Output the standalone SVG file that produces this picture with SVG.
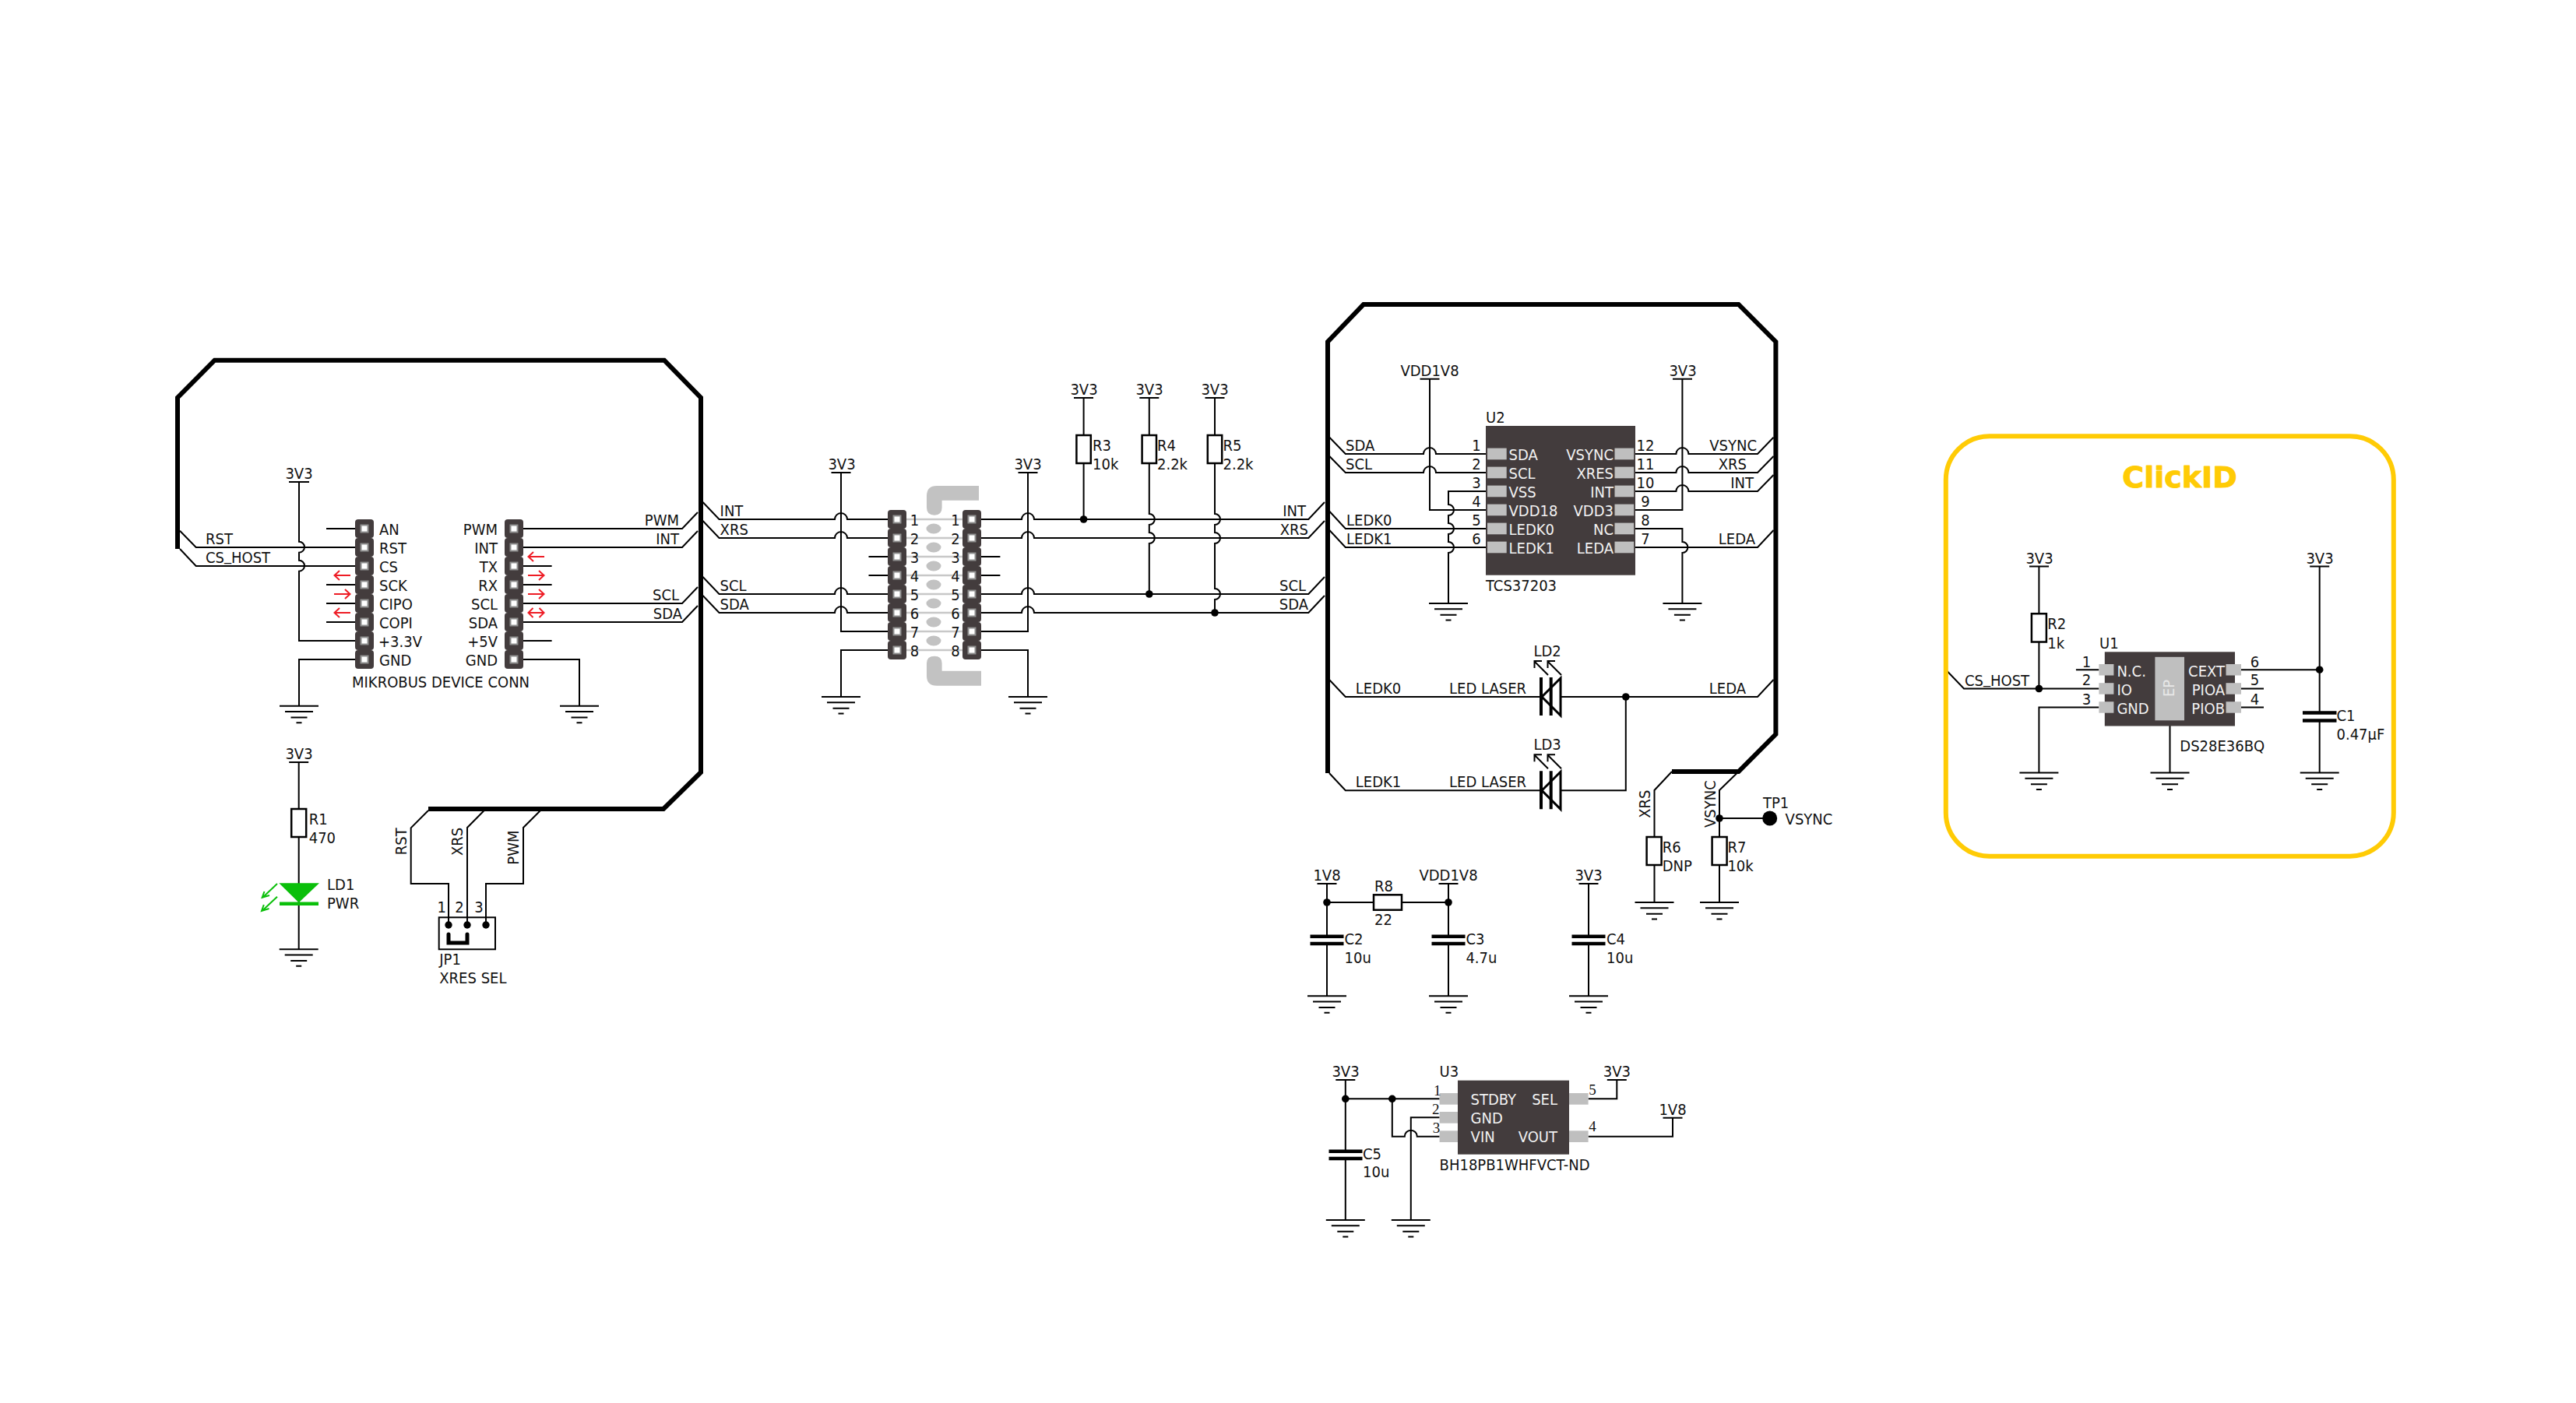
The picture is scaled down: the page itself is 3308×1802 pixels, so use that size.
<svg xmlns="http://www.w3.org/2000/svg" xmlns:xlink="http://www.w3.org/1999/xlink" width="3308" height="1802" viewBox="0 0 3308 1802">
<style>
text{font-family:"DejaVu Sans Condensed","DejaVu Sans","Liberation Sans",sans-serif;font-stretch:condensed;font-size:20px;fill:#111}
.w{fill:#f2f2f2}
.e{text-anchor:end}
.m{text-anchor:middle}
.s{font-family:"Liberation Serif",serif;font-stretch:normal;font-size:19px}
.l{fill:none;stroke:#000;stroke-width:2}
.fr{fill:none;stroke:#000;stroke-width:6;stroke-linejoin:miter}
.chip{fill:#433c3d}
.pad{fill:#bfbfbf}
.body{fill:#fff;stroke:#000;stroke-width:2.5}
.plate{fill:none;stroke:#000;stroke-width:4.5}
.red{fill:none;stroke:#ee1c25;stroke-width:2}
.grn{fill:none;stroke:#0abf0a;stroke-width:2}
.lite{fill:#c2c2c2}
.bar{stroke:#c8c8c8;stroke-width:2.5;fill:none}
</style>
<defs>
<g id="gnd" fill="none" stroke="#000" stroke-width="2"><path d="M-25,0H25M-18,7.3H18M-10.5,14.7H10.5M-3.5,21.5H3.5"/></g>
<g id="pin"><rect x="-12" y="-12" width="24" height="24" rx="4" fill="#433c3d"/><rect x="-5.5" y="-5.5" width="11" height="11" fill="#8f8f8f"/><rect x="-3.5" y="-3.5" width="7" height="7" fill="#fff"/></g>
<g id="laser"><path d="M0,-25V24M12.7,-25V24" fill="none" stroke="#000" stroke-width="4"/><path d="M1,0L25,-24V24Z" fill="none" stroke="#000" stroke-width="3"/><path d="M9,-28L-9,-46M-8.5,-37V-46H1M26,-28L8,-46M8.5,-37V-46H18" fill="none" stroke="#000" stroke-width="2"/></g>
</defs>
<g id="frames">
<path id="frame-mikrobus" class="fr" d="M228,705V510.7L275.6,462.7H853L900,510.7V992L852,1039H550"/>
<path id="frame-sensor" class="fr" d="M1705,993V439L1751,391H2232.6L2280.4,439V943L2232.6,991H2147"/>
</g>
<g id="connectors">
<path class="l" d="M231,681.7L251.7,703H456M231,705L251.7,727H456M384,619V695.7A7,7 0 0 1 384,709.7V719.7A7,7 0 0 1 384,733.7V823H456M419,679H456M419,751H456M419,775H456M419,799H456M456,847H384V906.7"/>
<path class="l" d="M672,679H876L896,658M672,703H876L896,682M672,775H876L896,754M672,799H876L896,778M672,727H708.6M672,751H708.6M672,823H708.6M672,847H744V906.7"/>
<path class="l" d="M902.6,645L923.5,667H1072A8,8 0 0 1 1088,667H1140M902.6,669L923.5,691H1072A8,8 0 0 1 1088,691H1140M902.6,741L923.5,763H1072A8,8 0 0 1 1088,763H1140M902.6,765L923.5,787H1072A8,8 0 0 1 1088,787H1140M1080,607V811H1140M1115.5,715H1140M1115.5,739H1140M1140,835H1080V895"/>
<path class="l" d="M1260,667H1312A8,8 0 0 1 1328,667H1680.3L1701,645M1260,691H1312A8,8 0 0 1 1328,691H1680.3L1701,669M1260,763H1312A8,8 0 0 1 1328,763H1680.3L1701,741M1260,787H1312A8,8 0 0 1 1328,787H1680.3L1701,765M1320,607V811H1260M1260,715H1284.4M1260,739H1284.4M1260,835H1320V895"/>
<path class="l" d="M1391.6,511V559M1391.6,595V667M1475.8,511V559M1475.8,595V660A7,7 0 0 1 1475.8,674V684A7,7 0 0 1 1475.8,698V763M1560,511V559M1560,595V660A7,7 0 0 1 1560,674V684A7,7 0 0 1 1560,698V756A7,7 0 0 1 1560,770V787"/>
<path class="l" d="M1707.3,561.7L1727.8,583H1828A8,8 0 0 1 1844,583H1910M1707.3,586L1727.8,607H1828A8,8 0 0 1 1844,607H1910M1707.3,656.7L1727.8,679H1910M1707.3,681L1727.8,703H1910M1836,487V655H1910M1910,631H1860V648A7,7 0 0 1 1860,662V672A7,7 0 0 1 1860,686V696A7,7 0 0 1 1860,710V775"/>
<path class="l" d="M2098,583H2152.4A8,8 0 0 1 2168.4,583H2257L2277.5,561.7M2098,607H2152.4A8,8 0 0 1 2168.4,607H2257L2277.5,586M2098,631H2152.4A8,8 0 0 1 2168.4,631H2257L2277.5,610M2098,703H2257L2277.5,681M2160.4,487V655H2098M2098,679H2160.4V696A7,7 0 0 1 2160.4,710V775"/>
<path class="l" d="M1707,873L1727.8,895H1979M2004,895H2257L2277.5,873M1707,993L1727.8,1015.3H1979M2004,1015.3H2087.8V895"/>
<path class="l" d="M2147,991L2124.5,1015V1075M2124.5,1111V1159M2232.6,991L2208,1015V1075M2208,1111V1159M2208,1051H2272"/>
<path class="l" d="M1704,1135V1202M1704,1212V1279M1704,1159H1764M1800,1159H1860M1860,1135V1202M1860,1212V1279M2040,1135V1202M2040,1212V1279"/>
<path class="l" d="M1727.8,1387V1478M1727.8,1488V1567M1727.8,1411.3H1848.6M1787.8,1411.3V1459.7H1803.8A8,8 0 0 1 1819.8,1459.7H1848.6M1848.6,1435.3H1811.8V1567M2039.6,1411.3H2076.3V1387M2039.6,1459.7H2148V1435.7"/>
<path class="l" d="M2498.6,860L2522,884.5H2695.4M2618.4,727.5V788M2618.4,824.5V884.5M2665.9,860.2H2695.4M2695.4,908.5H2618.4V992.5M2786.5,932V992.5M2878,860.2H2978.7M2878,884.5H2907M2878,908.5H2907M2978.7,727.5V915M2978.7,925V992.5"/>
<path class="l" d="M383.7,979V1039M383.7,1075V1219.3"/>
<path class="l" d="M550,1041L527.7,1063.3V1135H576V1188M621.7,1041L600,1063V1188M694,1041L672,1063V1135H624V1188"/>
</g>
<g id="mikrobus-conn">
<use xlink:href="#pin" x="468" y="679"/><use xlink:href="#pin" x="468" y="703"/><use xlink:href="#pin" x="468" y="727"/><use xlink:href="#pin" x="468" y="751"/><use xlink:href="#pin" x="468" y="775"/><use xlink:href="#pin" x="468" y="799"/><use xlink:href="#pin" x="468" y="823"/><use xlink:href="#pin" x="468" y="847"/>
<use xlink:href="#pin" x="660" y="679"/><use xlink:href="#pin" x="660" y="703"/><use xlink:href="#pin" x="660" y="727"/><use xlink:href="#pin" x="660" y="751"/><use xlink:href="#pin" x="660" y="775"/><use xlink:href="#pin" x="660" y="799"/><use xlink:href="#pin" x="660" y="823"/><use xlink:href="#pin" x="660" y="847"/>
<text x="487" y="686.5">AN</text><text x="487" y="710.5">RST</text><text x="487" y="734.5">CS</text><text x="487" y="758.5">SCK</text><text x="487" y="782.5">CIPO</text><text x="487" y="806.5">COPI</text><text x="486" y="830.5">+3.3V</text><text x="487" y="854.5">GND</text>
<text class="e" x="639" y="686.5">PWM</text><text class="e" x="639" y="710.5">INT</text><text class="e" x="639" y="734.5">TX</text><text class="e" x="639" y="758.5">RX</text><text class="e" x="639" y="782.5">SCL</text><text class="e" x="639" y="806.5">SDA</text><text class="e" x="639" y="830.5">+5V</text><text class="e" x="639" y="854.5">GND</text>
<text x="452" y="883">MIKROBUS DEVICE CONN</text>
<path class="red" d="M450,739H430M436,733L429.5,739L436,745M429,763H449M443,757L449.5,763L443,769M450,787H430M436,781L429.5,787L436,793"/>
<path class="red" d="M699,715H679M685,709L678.5,715L685,721M678,739H698M692,733L698.5,739L692,745M678,763H698M692,757L698.5,763L692,769M679,787H698M684.5,781L678.5,787L684.5,793M692.5,781L698.5,787L692.5,793"/>
<path class="l" d="M371,619H397"/><text class="m" x="384" y="615">3V3</text>
<use xlink:href="#gnd" x="384" y="906.7"/><use xlink:href="#gnd" x="744" y="906.7"/>
<text x="264" y="699">RST</text><text x="264" y="723">CS<tspan dy="-3">_</tspan><tspan dy="3">HOST</tspan></text>
<text class="e" x="872" y="675">PWM</text><text class="e" x="872" y="699">INT</text><text class="e" x="872" y="771">SCL</text><text class="e" x="876" y="795">SDA</text>
</g>
<g id="adapter-conn">
<path class="lite" d="M1190,637Q1190,624 1203,624H1257V642.7H1209.6V652Q1209.6,661.7 1200,661.7Q1190,661.7 1190,652Z"/>
<path class="lite" d="M1190,852Q1190,842.7 1200,842.7Q1209.6,842.7 1209.6,852V861.7H1260V880.7H1203Q1190,880.7 1190,868Z"/>
<path class="bar" d="M1164,667H1236M1164,691H1236M1164,715H1236M1164,739H1236M1164,763H1236M1164,787H1236M1164,811H1236M1164,835H1236"/>
<ellipse class="lite" cx="1199" cy="679" rx="9.5" ry="6.5"/><ellipse class="lite" cx="1199" cy="703" rx="9.5" ry="6.5"/><ellipse class="lite" cx="1199" cy="727" rx="9.5" ry="6.5"/><ellipse class="lite" cx="1199" cy="751" rx="9.5" ry="6.5"/><ellipse class="lite" cx="1199" cy="775" rx="9.5" ry="6.5"/><ellipse class="lite" cx="1199" cy="799" rx="9.5" ry="6.5"/><ellipse class="lite" cx="1199" cy="823" rx="9.5" ry="6.5"/>
<use xlink:href="#pin" x="1152" y="667"/><use xlink:href="#pin" x="1152" y="691"/><use xlink:href="#pin" x="1152" y="715"/><use xlink:href="#pin" x="1152" y="739"/><use xlink:href="#pin" x="1152" y="763"/><use xlink:href="#pin" x="1152" y="787"/><use xlink:href="#pin" x="1152" y="811"/><use xlink:href="#pin" x="1152" y="835"/>
<use xlink:href="#pin" x="1248" y="667"/><use xlink:href="#pin" x="1248" y="691"/><use xlink:href="#pin" x="1248" y="715"/><use xlink:href="#pin" x="1248" y="739"/><use xlink:href="#pin" x="1248" y="763"/><use xlink:href="#pin" x="1248" y="787"/><use xlink:href="#pin" x="1248" y="811"/><use xlink:href="#pin" x="1248" y="835"/>
<text class="m" x="1174.6" y="675">1</text><text class="m" x="1174.6" y="699">2</text><text class="m" x="1174.6" y="723">3</text><text class="m" x="1174.6" y="747">4</text><text class="m" x="1174.6" y="771">5</text><text class="m" x="1174.6" y="795">6</text><text class="m" x="1174.6" y="819">7</text><text class="m" x="1174.6" y="843">8</text>
<text class="m" x="1227" y="675">1</text><text class="m" x="1227" y="699">2</text><text class="m" x="1227" y="723">3</text><text class="m" x="1227" y="747">4</text><text class="m" x="1227" y="771">5</text><text class="m" x="1227" y="795">6</text><text class="m" x="1227" y="819">7</text><text class="m" x="1227" y="843">8</text>
<path class="l" d="M1067.5,607H1092.5M1307.5,607H1332.5"/><text class="m" x="1081" y="603">3V3</text><text class="m" x="1320" y="603">3V3</text>
<use xlink:href="#gnd" x="1080" y="895"/><use xlink:href="#gnd" x="1320" y="895"/>
<text x="924.6" y="663">INT</text><text x="924.6" y="687">XRS</text><text x="924.6" y="759">SCL</text><text x="924.6" y="783">SDA</text>
<text class="e" x="1677" y="663">INT</text><text class="e" x="1680" y="687">XRS</text><text class="e" x="1677" y="759">SCL</text><text class="e" x="1680" y="783">SDA</text>
</g>
<g id="R3"><path class="l" d="M1379,511H1404"/><text class="m" x="1392" y="507">3V3</text><rect class="body" x="1382.4" y="559" width="18.4" height="36"/><text x="1403" y="578.7">R3</text><text x="1403" y="602.7">10k</text><circle cx="1391.6" cy="667" r="4.8"/></g>
<g id="R4"><path class="l" d="M1463.3,511H1488.3"/><text class="m" x="1476" y="507">3V3</text><rect class="body" x="1466.6" y="559" width="18.4" height="36"/><text x="1486" y="578.7">R4</text><text x="1486" y="602.7">2.2k</text><circle cx="1475.8" cy="763" r="4.8"/></g>
<g id="R5"><path class="l" d="M1547.5,511H1572.5"/><text class="m" x="1560" y="507">3V3</text><rect class="body" x="1550.8" y="559" width="18.4" height="36"/><text x="1570.5" y="578.7">R5</text><text x="1570.5" y="602.7">2.2k</text><circle cx="1560" cy="787" r="4.8"/></g>
<g id="U2">
<rect class="chip" x="1908" y="547" width="192" height="191.7"/>
<rect class="pad" x="1910" y="575.6" width="24.7" height="14.7"/><rect class="pad" x="1910" y="599.6" width="24.7" height="14.7"/><rect class="pad" x="1910" y="623.6" width="24.7" height="14.7"/><rect class="pad" x="1910" y="647.6" width="24.7" height="14.7"/><rect class="pad" x="1910" y="671.6" width="24.7" height="14.7"/><rect class="pad" x="1910" y="695.6" width="24.7" height="14.7"/>
<rect class="pad" x="2073.5" y="575.6" width="24.7" height="14.7"/><rect class="pad" x="2073.5" y="599.6" width="24.7" height="14.7"/><rect class="pad" x="2073.5" y="623.6" width="24.7" height="14.7"/><rect class="pad" x="2073.5" y="647.6" width="24.7" height="14.7"/><rect class="pad" x="2073.5" y="671.6" width="24.7" height="14.7"/><rect class="pad" x="2073.5" y="695.6" width="24.7" height="14.7"/>
<text class="w" x="1937.5" y="591">SDA</text><text class="w" x="1937.5" y="615">SCL</text><text class="w" x="1937.5" y="639">VSS</text><text class="w" x="1937.5" y="663">VDD18</text><text class="w" x="1937.5" y="687">LEDK0</text><text class="w" x="1937.5" y="711">LEDK1</text>
<text class="w e" x="2072" y="591">VSYNC</text><text class="w e" x="2072" y="615">XRES</text><text class="w e" x="2072" y="639">INT</text><text class="w e" x="2072" y="663">VDD3</text><text class="w e" x="2072" y="687">NC</text><text class="w e" x="2072" y="711">LEDA</text>
<text class="m" x="1896" y="579">1</text><text class="m" x="1896" y="603">2</text><text class="m" x="1896" y="627">3</text><text class="m" x="1896" y="651">4</text><text class="m" x="1896" y="675">5</text><text class="m" x="1896" y="699">6</text>
<text class="m" x="2113" y="579">12</text><text class="m" x="2113" y="603">11</text><text class="m" x="2113" y="627">10</text><text class="m" x="2113" y="651">9</text><text class="m" x="2113" y="675">8</text><text class="m" x="2113" y="699">7</text>
<text x="1908" y="543">U2</text><text x="1908" y="759">TCS37203</text>
<path class="l" d="M1823.5,486.7H1848.5M2148,486.7H2173"/><text class="m" x="1836" y="482.7">VDD1V8</text><text class="m" x="2161" y="482.7">3V3</text>
<use xlink:href="#gnd" x="1860" y="775"/><use xlink:href="#gnd" x="2160.4" y="775"/>
<text x="1728" y="579">SDA</text><text x="1728" y="603">SCL</text><text x="1729" y="675">LEDK0</text><text x="1729" y="699">LEDK1</text>
<text class="e" x="2256" y="579">VSYNC</text><text class="e" x="2243" y="603">XRS</text><text class="e" x="2252" y="627">INT</text><text class="e" x="2254" y="699">LEDA</text>
</g>
<g id="LD2"><use xlink:href="#laser" x="1979" y="895"/><text x="1969.4" y="843">LD2</text><text x="1861" y="891">LED LASER</text><text x="1740.8" y="891">LEDK0</text><text class="e" x="2242" y="891">LEDA</text><circle cx="2087.8" cy="895" r="4.8"/></g>
<g id="LD3"><use xlink:href="#laser" x="1979" y="1015.3"/><text x="1969.4" y="962.7">LD3</text><text x="1861" y="1011">LED LASER</text><text x="1740.8" y="1011">LEDK1</text></g>
<g id="R6"><rect class="body" x="2114.6" y="1075" width="19" height="36"/><text x="2134.7" y="1095">R6</text><text x="2134.7" y="1119">DNP</text><use xlink:href="#gnd" x="2124.5" y="1159"/><text transform="translate(2118.8,1050.7) rotate(-90)">XRS</text></g>
<g id="R7"><rect class="body" x="2198.6" y="1075" width="19" height="36"/><text x="2218.4" y="1095">R7</text><text x="2218.4" y="1119">10k</text><use xlink:href="#gnd" x="2208" y="1159"/><text transform="translate(2203,1063) rotate(-90)">VSYNC</text><circle cx="2208" cy="1051" r="4.8"/></g>
<g id="TP1"><circle cx="2272.7" cy="1051" r="9.5"/><text x="2264" y="1037.7">TP1</text><text x="2292.6" y="1059">VSYNC</text></g>
<g id="R8"><rect class="body" x="1764" y="1149.3" width="36" height="19.4"/><text x="1765" y="1145">R8</text><text x="1765" y="1188">22</text><circle cx="1704" cy="1159" r="4.8"/><circle cx="1860" cy="1159" r="4.8"/></g>
<g id="C2"><path class="l" d="M1691.5,1135H1716.5"/><text class="m" x="1704" y="1130.7">1V8</text><path class="plate" d="M1682.5,1202.7H1725.5M1682.5,1212H1725.5"/><text x="1726.5" y="1212.7">C2</text><text x="1726.5" y="1236.7">10u</text><use xlink:href="#gnd" x="1704" y="1279.3"/></g>
<g id="C3"><path class="l" d="M1847.5,1135H1872.5"/><text class="m" x="1860" y="1130.7">VDD1V8</text><path class="plate" d="M1838.5,1202.7H1881.5M1838.5,1212H1881.5"/><text x="1882.4" y="1212.7">C3</text><text x="1882.4" y="1236.7">4.7u</text><use xlink:href="#gnd" x="1860" y="1279.3"/></g>
<g id="C4"><path class="l" d="M2027.5,1135H2052.5"/><text class="m" x="2040" y="1130.7">3V3</text><path class="plate" d="M2018.5,1202.7H2061.5M2018.5,1212H2061.5"/><text x="2063" y="1212.7">C4</text><text x="2063" y="1236.7">10u</text><use xlink:href="#gnd" x="2040" y="1279.3"/></g>
<g id="U3">
<rect class="chip" x="1872" y="1387.7" width="143" height="95"/>
<rect class="pad" x="1848.6" y="1404" width="23.4" height="14.7"/><rect class="pad" x="1848.6" y="1428" width="23.4" height="14.7"/><rect class="pad" x="1848.6" y="1452.3" width="23.4" height="14.7"/><rect class="pad" x="2015" y="1404" width="24.6" height="14.7"/><rect class="pad" x="2015" y="1452.3" width="24.6" height="14.7"/>
<text class="w" x="1888.6" y="1419">STDBY</text><text class="w" x="1888.6" y="1443">GND</text><text class="w" x="1888.6" y="1467">VIN</text><text class="w e" x="2000" y="1419">SEL</text><text class="w e" x="2000" y="1467">VOUT</text>
<text class="m s" x="1845.7" y="1406.7">1</text><text class="m s" x="1843.7" y="1430.7">2</text><text class="m s" x="1844.5" y="1455">3</text><text class="m s" x="2045" y="1406">5</text><text class="m s" x="2045" y="1453">4</text>
<text x="1848.6" y="1383">U3</text><text x="1848.6" y="1503">BH18PB1WHFVCT-ND</text>
<path class="l" d="M1715.3,1387H1740.3M2063.8,1387H2088.8M2135.5,1435.7H2160.5"/><text class="m" x="1728" y="1383">3V3</text><text class="m" x="2076.3" y="1383">3V3</text><text class="m" x="2148" y="1431.7">1V8</text>
<circle cx="1727.8" cy="1411.3" r="4.8"/><circle cx="1787.8" cy="1411.3" r="4.8"/>
<use xlink:href="#gnd" x="1727.8" y="1567"/><use xlink:href="#gnd" x="1811.8" y="1567"/>
</g>
<g id="C5"><path class="plate" d="M1706.5,1478.7H1749.5M1706.5,1488H1749.5"/><text x="1750" y="1489">C5</text><text x="1750" y="1512">10u</text></g>
<g id="R1-LD1"><path class="l" d="M371.2,979H396.2"/><text class="m" x="384" y="975">3V3</text><rect class="body" x="374.2" y="1039" width="19" height="36"/><text x="396.7" y="1059">R1</text><text x="396.7" y="1083">470</text>
<path d="M358.3,1134.3H410L383.7,1159.3Z" fill="#0abf0a"/><path d="M359,1160.7H409" stroke="#0abf0a" stroke-width="4.5" fill="none"/>
<path class="grn" d="M356,1135L337,1153M339.5,1145L336.7,1152.7L346,1150M356,1151.7L337,1169.5M338.8,1162L336,1170L345.5,1167"/>
<text x="420" y="1143.3">LD1</text><text x="420" y="1167.3">PWR</text><use xlink:href="#gnd" x="383.7" y="1219.3"/></g>
<g id="JP1"><rect x="563.7" y="1178.3" width="72.3" height="41" fill="none" stroke="#000" stroke-width="2"/><circle cx="576" cy="1188" r="4.7"/><circle cx="600" cy="1188" r="4.7"/><circle cx="624" cy="1188" r="4.7"/><path d="M576,1200V1211H600V1200" fill="none" stroke="#000" stroke-width="5" stroke-linecap="round"/>
<text class="m" x="567.3" y="1172.3">1</text><text class="m" x="590" y="1172.3">2</text><text class="m" x="615" y="1172.3">3</text><text x="564.3" y="1239.3">JP1</text><text x="564.3" y="1263.3">XRES SEL</text>
<text transform="translate(521.7,1098.3) rotate(-90)">RST</text><text transform="translate(594,1099) rotate(-90)">XRS</text><text transform="translate(666,1110.7) rotate(-90)">PWM</text></g>
<g id="clickid">
<rect x="2498.8" y="560.3" width="575" height="539.4" rx="56" ry="56" fill="none" stroke="#ffcb05" stroke-width="6"/>
<text class="m" x="2799" y="626" style="font-family:'DejaVu Sans',sans-serif;font-stretch:normal;font-weight:bold;font-size:38px;fill:#ffcb05;stroke:#ffcb05;stroke-width:1;stroke-linejoin:round">ClickID</text>
</g>
<g id="U1">
<rect class="chip" x="2702.8" y="837.3" width="167.2" height="95.2"/>
<rect class="pad" x="2767.4" y="843.8" width="37.6" height="81.5"/>
<text class="w m" transform="translate(2792,884) rotate(-90)" style="fill:#e8e8e8">EP</text>
<rect class="pad" x="2695.4" y="853" width="19" height="14.5"/><rect class="pad" x="2695.4" y="877.2" width="19" height="14.5"/><rect class="pad" x="2695.4" y="901.2" width="19" height="14.5"/><rect class="pad" x="2858.5" y="853" width="19.5" height="14.5"/><rect class="pad" x="2858.5" y="877.2" width="19.5" height="14.5"/><rect class="pad" x="2858.5" y="901.2" width="19.5" height="14.5"/>
<text class="w" x="2718.4" y="869">N.C.</text><text class="w" x="2718.4" y="893">IO</text><text class="w" x="2718.4" y="917">GND</text><text class="w e" x="2857" y="869">CEXT</text><text class="w e" x="2857" y="893">PIOA</text><text class="w e" x="2857" y="917">PIOB</text>
<text class="m" x="2679.5" y="856.5">1</text><text class="m" x="2679.5" y="880">2</text><text class="m" x="2679.5" y="904.5">3</text><text class="m" x="2895.5" y="856.5">6</text><text class="m" x="2895.5" y="880">5</text><text class="m" x="2895.5" y="904.5">4</text>
<text x="2696" y="833">U1</text><text x="2799.3" y="964.5">DS28E36BQ</text>
<use xlink:href="#gnd" x="2618.4" y="992.5"/><use xlink:href="#gnd" x="2786.5" y="992.5"/>
<circle cx="2618.4" cy="884.5" r="4.8"/><text x="2523" y="881">CS<tspan dy="-3">_</tspan><tspan dy="3">HOST</tspan></text>
</g>
<g id="R2"><path class="l" d="M2606,727.5H2631"/><text class="m" x="2619" y="724">3V3</text><rect class="body" x="2608.9" y="788.2" width="19" height="36.3"/><text x="2629.3" y="808">R2</text><text x="2629.3" y="833">1k</text></g>
<g id="C1"><path class="l" d="M2966.2,727.5H2991.2"/><text class="m" x="2979" y="724">3V3</text><path class="plate" d="M2957,915.5H3000.5M2957,925.6H3000.5"/><text x="3000.5" y="926.4">C1</text><text x="3000.5" y="950">0.47μF</text><circle cx="2978.7" cy="860.2" r="4.8"/><use xlink:href="#gnd" x="2978.7" y="992.5"/></g>
</svg>
